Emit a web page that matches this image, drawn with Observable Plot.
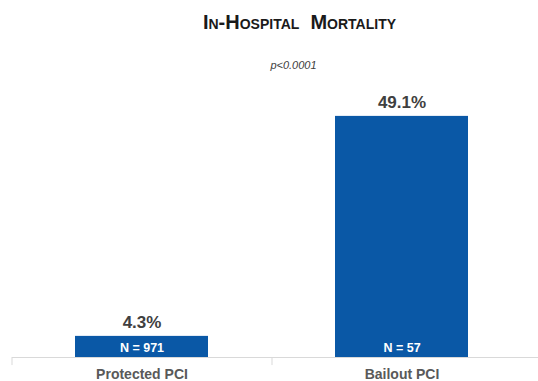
<!DOCTYPE html>
<html>
<head>
<meta charset="utf-8">
<script src="https://cdn.jsdelivr.net/npm/d3@7"></script>
<script src="https://cdn.jsdelivr.net/npm/@observablehq/plot@0.6"></script>
<style>
  body { margin: 0; background: #fff; }
  svg { font-family: "Liberation Sans", Arial, sans-serif; }
</style>
</head>
<body>
<div id="chart"></div>
<script>
const categories = ["Protected PCI", "Bailout PCI"];
const mortality = [4.3, 49.1];
const counts = [971, 57];
const title = "In-Hospital  Mortality";
const pValue = "p<0.0001";

const data = categories.map((c, i) => ({category: c, value: mortality[i], n: counts[i]}));

const chart = Plot.plot({
  width: 538,
  height: 381,
  marginTop: 0,
  marginLeft: 12,
  marginRight: 0,
  marginBottom: 24,
  style: {fontFamily: "Liberation Sans, Arial, sans-serif", background: "#fff"},
  x: {domain: categories, range: [11, 531], paddingInner: 0.49, paddingOuter: 0.245, label: null},
  y: {domain: [0, 72.7], axis: null},
  marks: [
    Plot.barY(data, {x: "category", y: "value", fill: "#0a58a6"}),
    Plot.ruleY([0], {stroke: "#d9d9d9", strokeWidth: 1}),
    Plot.ruleX(categories, {x: d => d, dx: -130, y1: 0, y2: -1.65, stroke: "#d9d9d9"}),
    Plot.text(data, {x: "category", y: "value", text: d => d.value.toFixed(1) + "%", dy: -14,
      fontSize: 17, fontWeight: "bold", fill: "#404040"}),
    Plot.text(data, {x: "category", y: 0, text: d => "N = " + d.n, dy: -10,
      fontSize: 12.5, fontWeight: "bold", fill: "#ffffff"}),
    Plot.axisX({tickSize: 0, tickPadding: 12, fontSize: 14, fontWeight: "bold", color: "#595959", label: null}),
    Plot.text([title], {frameAnchor: "top", dx: 24, dy: 22, text: d => d, fontSize: 20,
      fontWeight: "bold", fill: "#1a1a1a", fontVariant: "small-caps", lineAnchor: "middle"}),
    Plot.text([pValue], {frameAnchor: "top", dx: 18, dy: 65, text: d => d, fontSize: 11,
      fontStyle: "italic", fill: "#404040", lineAnchor: "middle"})
  ]
});
document.getElementById("chart").append(chart);
</script>
</body>
</html>
